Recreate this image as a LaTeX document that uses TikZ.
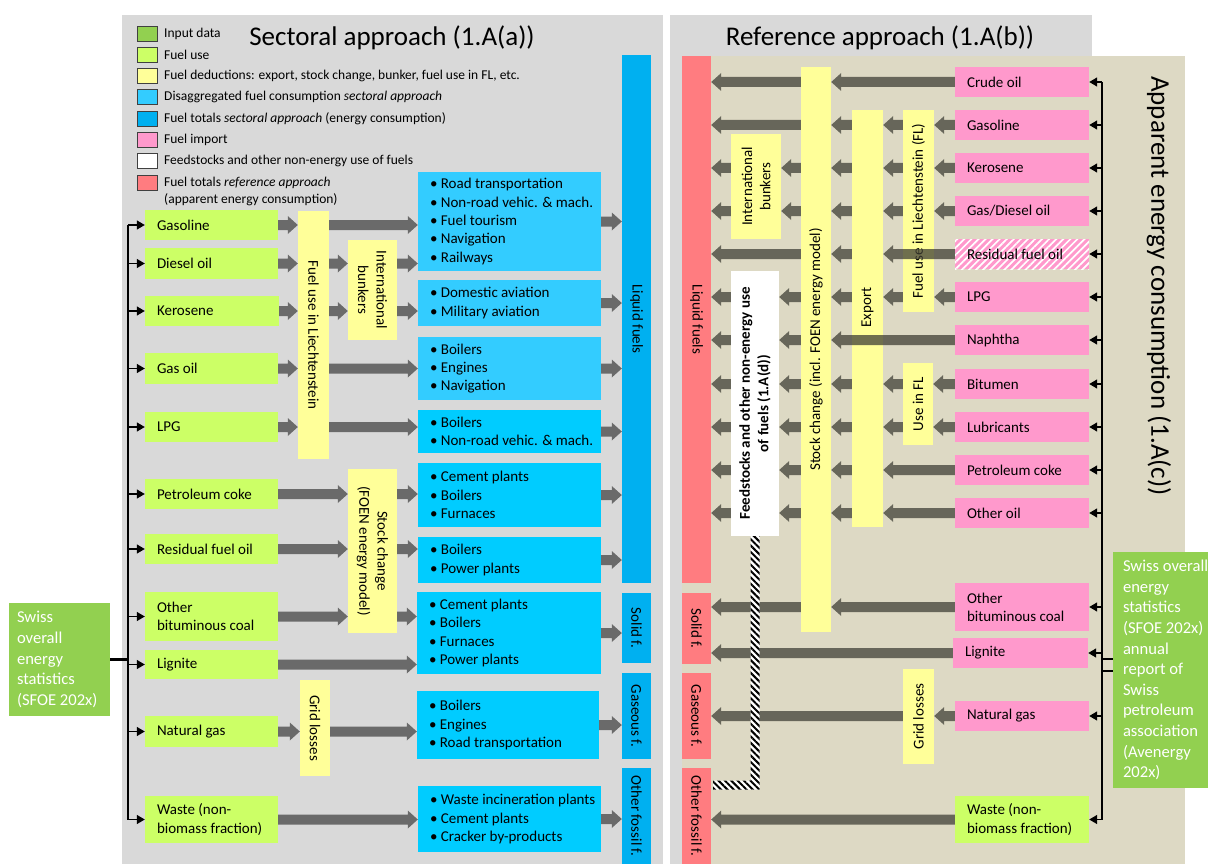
\documentclass[tikz,border=0pt]{standalone}
\usepackage{fontspec}
\setmainfont{Carlito}
\usetikzlibrary{arrows.meta,patterns.meta,calc}
\definecolor{ingreen}{RGB}{146,208,80}
\definecolor{fuelgreen}{RGB}{204,255,102}
\definecolor{dedyel}{RGB}{255,255,153}
\definecolor{disblue}{RGB}{51,204,255}
\definecolor{disblueB}{RGB}{0,204,255}
\definecolor{totblue}{RGB}{0,176,240}
\definecolor{impink}{RGB}{255,153,204}
\definecolor{refred}{RGB}{255,124,128}
\definecolor{panelgray}{RGB}{217,217,217}
\definecolor{paneltan}{RGB}{221,217,196}
\definecolor{arrL}{RGB}{106,106,106}
\definecolor{arrR}{RGB}{103,102,90}
\definecolor{arrRT}{RGB}{64,63,52}
% box only: [style]{name}{x1}{y1}{x2}{y2}
\newcommand\bx[6][]{%
  \pgfmathsetmacro\bxw{#5-#3}\pgfmathsetmacro\bxh{#6-#4}%
  \node[rectangle, inner sep=0pt, minimum width=\bxw pt, minimum height=\bxh pt, #1] (#2) at ({(#3+#5)/2},{(#4+#6)/2}) {};}
% box with left-aligned text
\newcommand\tbx[7][]{%
  \bx[#1]{#2}{#3}{#4}{#5}{#6}%
  \node[anchor=west, align=left, inner sep=0pt] (#2t) at ([xshift=12pt]#2.west) {#7};}
% fat arrow polygon {style}{from}{to}
\newcommand\farr[3]{%
  \fill[#1] let \p1=(#2), \p2=(#3), \p3=($(#3)!10pt!(#2)$) in
    (\x1,\y1+5pt) -- (\x3,\y1+5pt) -- (\x3,\y1+9pt) -- (\x2,\y1) -- (\x3,\y1-9pt) -- (\x3,\y1-5pt) -- (\x1,\y1-5pt) -- cycle;}
\newcommand\lar[4][aL]{\farr{#1}{#2.east |- #4.east}{#3.west |- #4.east}}
\newcommand\rar[4][aR]{\farr{#1}{#2.west |- #4.west}{#3.east |- #4.west}}
\begin{document}
\begin{tikzpicture}[x=1pt,y=-1pt,
  every node/.style={font=\fontsize{15}{18.3}\selectfont, text=black},
  inbox/.style={fill=fuelgreen},
  ybox/.style={fill=dedyel},
  bbox/.style={fill=disblue},
  bboxB/.style={fill=disblueB},
  tbar/.style={fill=totblue},
  rbar/.style={fill=refred},
  pbox/.style={fill=impink},
  rot/.style={rotate=-90, align=center, inner sep=0pt},
  rotL/.style={rotate=90, align=center, inner sep=0pt},
  legsq/.style={draw=black!75, line width=0.9pt, minimum width=20pt, minimum height=15pt, inner sep=0pt},
  legtxt/.style={anchor=west, inner sep=0pt, font=\fontsize{13.5}{17}\selectfont, align=left},
  title/.style={font=\fontsize{27}{32}\selectfont},
  swisstxt/.style={anchor=west, align=left, inner sep=0pt, text=white, font=\fontsize{16.6}{20.6}\selectfont},
  bus/.style={draw=black, line width=1.6pt},
  busarr/.style={draw=black, line width=1.3pt, -{Triangle[length=8pt,width=9pt]}},
  aL/.style={fill=arrL},
  aR/.style={fill=arrR},
  aRT/.style={fill=arrRT, fill opacity=0.75},
]
\fill[white] (0,0) rectangle (1208,864);
\useasboundingbox (0,0) rectangle (1208,864);
% panels
\fill[panelgray] (122,15) rectangle (663,864);
\fill[panelgray] (670,15) rectangle (1092,864);
\fill[paneltan] (682,56) rectangle (1185,864);
% titles
\node[title] (titleS) at (392,38) {Sectoral approach (1.A(a))};
\node[title] (titleR) at (880,38) {Reference approach (1.A(b))};
\node[title, rotate=-90] (titleA) at (1159,286) {Apparent energy consumption (1.A(c))};
% legend
\node[legsq, fill=ingreen] (lg1) at (147,34) {};
\node[legtxt] (lt1) at (164,34) {Input data};
\node[legsq, fill=fuelgreen] (lg2) at (147,55) {};
\node[legtxt] (lt2) at (164,55) {Fuel use};
\node[legsq, fill=dedyel] (lg3) at (147,75.5) {};
\node[legtxt] (lt3) at (164,75.5) {Fuel deductions: export, stock change, bunker, fuel use in FL, etc.};
\node[legsq, fill=disblue] (lg4) at (147,97) {};
\node[legtxt] (lt4) at (164,97) {Disaggregated fuel consumption \textit{sectoral approach}};
\node[legsq, fill=totblue] (lg5) at (147,118.5) {};
\node[legtxt] (lt5) at (164,118.5) {Fuel totals \textit{sectoral approach} (energy consumption)};
\node[legsq, fill=impink] (lg6) at (147,140) {};
\node[legtxt] (lt6) at (164,140) {Fuel import};
\node[legsq, fill=white] (lg7) at (147,161) {};
\node[legtxt] (lt7) at (164,161) {Feedstocks and other non-energy use of fuels};
\node[legsq, fill=refred] (lg8) at (147,183) {};
\node[legtxt] (lt8) at (164,191.5) {Fuel totals \textit{reference approach}\\(apparent energy consumption)};
% ---------- left: inputs
\tbx[inbox]{gasL}{145}{210}{278}{240}{Gasoline}
\tbx[inbox]{dieselL}{145}{248}{278}{279}{Diesel oil}
\tbx[inbox]{keroL}{145}{296}{279}{326}{Kerosene}
\tbx[inbox]{gasoilL}{145}{353}{278}{384}{Gas oil}
\tbx[inbox]{lpgL}{145}{412}{278}{442}{LPG}
\tbx[inbox]{petcokeL}{145}{479}{278}{509}{Petroleum coke}
\tbx[inbox]{resL}{145}{534}{278}{564}{Residual fuel oil}
\tbx[inbox]{obcL}{145}{592}{278}{641}{Other\\bituminous coal}
\tbx[inbox]{ligL}{145}{650}{278}{679}{Lignite}
\tbx[inbox]{ngL}{145}{716}{278}{747}{Natural gas}
\tbx[inbox]{wasteL}{145}{796}{278}{843}{Waste (non-\\biomass fraction)}
% left deductions
\bx[ybox]{fuelLI}{298}{211}{329}{459}
\node[rot] (tfuelLI) at (fuelLI) {Fuel use in Liechtenstein};
\bx[ybox]{bunkL}{348}{240}{397}{340}
\node[rot] (tbunkL) at (bunkL) {International\\bunkers};
\bx[ybox]{stockL}{348}{469}{397}{633}
\node[rot] (tstockL) at (stockL) {Stock change\\(FOEN energy model)};
\bx[ybox]{gridL}{300}{680}{330}{776}
\node[rot] (tgridL) at (gridL) {Grid losses};
% blue boxes
\tbx[bbox]{b1}{418}{172}{601}{271}{\textbullet\ Road transportation\\\textbullet\ Non-road vehic. \& mach.\\\textbullet\ Fuel tourism\\\textbullet\ Navigation\\\textbullet\ Railways}
\tbx[bbox]{b2}{418}{280}{601}{326}{\textbullet\ Domestic aviation\\\textbullet\ Military aviation}
\tbx[bbox]{b3}{418}{337}{601}{400}{\textbullet\ Boilers\\\textbullet\ Engines\\\textbullet\ Navigation}
\tbx[bboxB]{b4}{418}{410}{601}{453}{\textbullet\ Boilers\\\textbullet\ Non-road vehic. \& mach.}
\tbx[bboxB]{b5}{418}{463}{601}{527}{\textbullet\ Cement plants\\\textbullet\ Boilers\\\textbullet\ Furnaces}
\tbx[bboxB]{b6}{418}{537}{601}{583}{\textbullet\ Boilers\\\textbullet\ Power plants}
\tbx[bboxB]{b7}{417}{592}{601}{674}{\textbullet\ Cement plants\\\textbullet\ Boilers\\\textbullet\ Furnaces\\\textbullet\ Power plants}
\tbx[bboxB]{b8}{417}{691}{599}{759}{\textbullet\ Boilers\\\textbullet\ Engines\\\textbullet\ Road transportation}
\tbx[bboxB]{b9}{418}{786}{601}{852}{\textbullet\ Waste incineration plants\\\textbullet\ Cement plants\\\textbullet\ Cracker by-products}
% totals bars
\bx[tbar]{liqB}{622}{55}{651}{583}
\node[rot] (tliqB) at (liqB) {Liquid fuels};
\bx[tbar]{solB}{622}{593}{651}{663}
\node[rot] (tsolB) at (solB) {Solid f.};
\bx[tbar]{gasB}{622}{673}{651}{759}
\node[rot] (tgasB) at (gasB) {Gaseous f.};
\bx[tbar]{othB}{622}{768}{651}{864}
\node[rot] (tothB) at (othB) {Other fossil f.};
% Swiss left
\bx[fill=ingreen]{swissL}{9}{603}{110}{716}
\node[swisstxt] (swissLt) at ([xshift=8pt]swissL.west) {Swiss\\overall\\energy\\statistics\\(SFOE 202x)};
% left bus
\coordinate (busLtop) at (128,225);
\coordinate (busLbot) at (128,819.5);
\draw[bus] (busLtop) -- (busLbot);
\draw[bus, line width=3pt] (swissL.east) -- (busLtop |- swissL.east);
\foreach \n in {gasL,dieselL,keroL,gasoilL,lpgL,petcokeL,resL,obcL,ligL,ngL,wasteL}
  \draw[busarr] (busLtop |- \n.west) -- (\n.west);
% left arrows
\lar{gasL}{fuelLI}{gasL}
\lar{fuelLI}{b1}{gasL}
\lar{dieselL}{fuelLI}{dieselL}
\lar{fuelLI}{bunkL}{dieselL}
\lar{bunkL}{b1}{dieselL}
\lar{keroL}{fuelLI}{keroL}
\lar{fuelLI}{bunkL}{keroL}
\lar{bunkL}{b2}{keroL}
\lar{gasoilL}{fuelLI}{gasoilL}
\lar{fuelLI}{b3}{gasoilL}
\lar{lpgL}{fuelLI}{lpgL}
\lar{fuelLI}{b4}{lpgL}
\lar{petcokeL}{stockL}{petcokeL}
\lar{stockL}{b5}{petcokeL}
\lar{resL}{stockL}{resL}
\lar{stockL}{b6}{resL}
\lar{obcL}{stockL}{obcL}
\lar{stockL}{b7}{obcL}
\lar{ligL}{b7}{ligL}
\lar{ngL}{gridL}{ngL}
\lar{gridL}{b8}{ngL}
\lar{wasteL}{b9}{wasteL}
\lar{b1}{liqB}{b1}
\lar{b2}{liqB}{b2}
\lar{b3}{liqB}{b3}
\lar{b4}{liqB}{b4}
\lar{b5}{liqB}{b5}
\lar{b6}{liqB}{b6}
\lar{b7}{solB}{b7}
\lar{b8}{gasB}{b8}
\lar{b9}{othB}{b9}
% ---------- right
\bx[rbar]{liqR}{682}{56}{711}{583}
\node[rot] (tliqR) at (liqR) {Liquid fuels};
\bx[rbar]{solR}{682}{593}{711}{664}
\node[rot] (tsolR) at (solR) {Solid f.};
\bx[rbar]{gasRb}{682}{673}{711}{759}
\node[rot] (tgasRb) at (gasRb) {Gaseous f.};
\bx[rbar]{othR}{682}{768}{711}{864}
\node[rot] (tothR) at (othR) {Other fossil f.};
\bx[ybox]{intlR}{731}{134}{781}{239}
\node[rotL] (tintlR) at (intlR) {International\\bunkers};
\bx[fill=white]{feedR}{731}{271}{779}{536}
\node[rotL, font=\fontsize{15}{18.3}\selectfont\bfseries] (tfeedR) at (feedR) {Feedstocks and other non-energy use\\of fuels (1.A(d))};
\bx[ybox]{stockR}{801}{67}{831}{632}
\node[rotL] (tstockR) at (stockR) {Stock change (incl. FOEN energy model)};
\bx[ybox]{exportR}{852}{110}{883}{527}
\node[rotL] (texportR) at ($(exportR)+(0,-11)$) {Export};
\bx[ybox]{flR}{903}{110}{934}{312}
\node[rotL] (tflR) at (flR) {Fuel use in Liechtenstein (FL)};
\bx[ybox]{useflR}{903}{363}{933}{445}
\node[rotL] (tuseflR) at (useflR) {Use in FL};
\bx[ybox]{gridR}{903}{669}{934}{764}
\node[rotL] (tgridR) at (gridR) {Grid losses};
% pink imports
\tbx[pbox]{rCrude}{955}{67}{1089}{97}{Crude oil}
\tbx[pbox]{rGasol}{955}{110}{1089}{140}{Gasoline}
\tbx[pbox]{rKero}{955}{153}{1089}{183}{Kerosene}
\tbx[pbox]{rGD}{955}{196}{1089}{226}{Gas/Diesel oil}
\tbx[pbox, postaction={pattern={Lines[angle=45,distance=5pt,line width=1.7pt]}, pattern color=white}]{rResid}{955}{239}{1089}{269}{Residual fuel oil}
\tbx[pbox]{rLPG}{955}{282}{1089}{312}{LPG}
\tbx[pbox]{rNaph}{955}{325}{1089}{355}{Naphtha}
\tbx[pbox]{rBit}{955}{369}{1089}{399}{Bitumen}
\tbx[pbox]{rLub}{955}{412}{1089}{442}{Lubricants}
\tbx[pbox]{rPet}{955}{455}{1089}{485}{Petroleum coke}
\tbx[pbox]{rOth}{955}{498}{1089}{528}{Other oil}
\tbx[pbox]{rOBC}{955}{583}{1089}{631}{Other\\bituminous coal}
\tbx[pbox]{rLig}{953}{638}{1088}{668}{Lignite}
\tbx[pbox]{rNG}{955}{701}{1089}{731}{Natural gas}
\tbx[inbox]{rWaste}{955}{796}{1089}{843}{Waste (non-\\biomass fraction)}
% Swiss right
\bx[fill=ingreen]{swissR}{1113}{552}{1230}{788}
\node[swisstxt] (swissRt) at ([xshift=10pt]swissR.west) {Swiss overall\\energy\\statistics\\(SFOE 202x)\\annual\\report of\\Swiss\\petroleum\\association\\(Avenergy\\202x)};
% right bus
\coordinate (busRtop) at (1102,82);
\coordinate (busRbot) at (1102,819.5);
\draw[bus] (busRtop) -- (busRbot);
\coordinate (stubA) at (1102,659);
\coordinate (stubB) at (1102,671);
\draw[bus, line width=2.2pt] (stubA) -- (stubA -| swissR.west);
\draw[bus, line width=2.2pt] (stubB) -- (stubB -| swissR.west);
\foreach \n in {rCrude,rGasol,rKero,rGD,rResid,rLPG,rNaph,rBit,rLub,rPet,rOth,rOBC,rLig,rNG,rWaste}
  \draw[busarr] (busRtop |- \n.east) -- (\n.east);
% right arrows
\rar{rCrude}{stockR}{rCrude}
\rar{stockR}{liqR}{rCrude}
\rar{rGasol}{flR}{rGasol}
\rar{flR}{exportR}{rGasol}
\rar{exportR}{stockR}{rGasol}
\rar{stockR}{liqR}{rGasol}
\rar{rKero}{flR}{rKero}
\rar{flR}{exportR}{rKero}
\rar{exportR}{stockR}{rKero}
\rar{stockR}{intlR}{rKero}
\rar{intlR}{liqR}{rKero}
\rar{rGD}{flR}{rGD}
\rar{flR}{exportR}{rGD}
\rar{exportR}{stockR}{rGD}
\rar{stockR}{intlR}{rGD}
\rar{intlR}{liqR}{rGD}
\rar[aRT]{rResid}{exportR}{rResid}
\rar{exportR}{stockR}{rResid}
\rar{stockR}{liqR}{rResid}
\rar{rLPG}{flR}{rLPG}
\rar{flR}{exportR}{rLPG}
\rar{exportR}{stockR}{rLPG}
\rar{stockR}{feedR}{rLPG}
\rar{feedR}{liqR}{rLPG}
\rar[aRT]{rNaph}{stockR}{rNaph}
\rar{stockR}{feedR}{rNaph}
\rar{feedR}{liqR}{rNaph}
\rar{rBit}{useflR}{rBit}
\rar{useflR}{exportR}{rBit}
\rar{exportR}{stockR}{rBit}
\rar{stockR}{feedR}{rBit}
\rar{feedR}{liqR}{rBit}
\rar{rLub}{useflR}{rLub}
\rar{useflR}{exportR}{rLub}
\rar{exportR}{stockR}{rLub}
\rar{stockR}{feedR}{rLub}
\rar{feedR}{liqR}{rLub}
\rar{rPet}{exportR}{rPet}
\rar{exportR}{stockR}{rPet}
\rar{stockR}{feedR}{rPet}
\rar{feedR}{liqR}{rPet}
\rar{rOth}{exportR}{rOth}
\rar{exportR}{stockR}{rOth}
\rar{stockR}{feedR}{rOth}
\rar{feedR}{liqR}{rOth}
\rar{rOBC}{stockR}{rOBC}
\rar{stockR}{solR}{rOBC}
\rar{rLig}{solR}{rLig}
\rar{rNG}{gridR}{rNG}
\rar{gridR}{gasRb}{rNG}
\rar{rWaste}{othR}{rWaste}
% hatched connector feedstocks -> other fossil
\coordinate (hCorner) at (755,785);
\path[fill=white, postaction={pattern={Lines[angle=-45,distance=4.5pt,line width=2pt]}, pattern color=black}]
  ($(feedR.south)+(-4.5,0)$) rectangle ($(hCorner)+(4.5,4.5)$)
  ($(othR.east |- hCorner)+(2,-4.5)$) rectangle ($(hCorner)+(4.5,4.5)$);
\end{tikzpicture}
\end{document}
